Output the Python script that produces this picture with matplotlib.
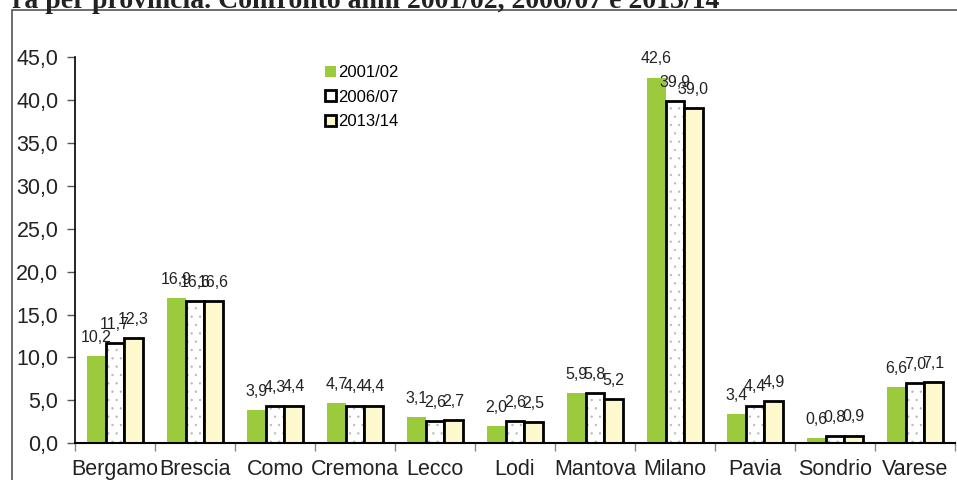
import matplotlib.pyplot as plt
import numpy as np
from matplotlib.patches import Patch, Rectangle

plt.rcParams['font.family'] = ['Liberation Sans', 'DejaVu Sans']
plt.rcParams['hatch.linewidth'] = 0.4

# Data
province = ['Bergamo', 'Brescia', 'Como', 'Cremona', 'Lecco', 'Lodi',
            'Mantova', 'Milano', 'Pavia', 'Sondrio', 'Varese']
anno_2001 = [10.2, 16.9, 3.9, 4.7, 3.1, 2.0, 5.9, 42.6, 3.4, 0.6, 6.6]
anno_2006 = [11.7, 16.6, 4.3, 4.4, 2.6, 2.6, 5.8, 39.9, 4.4, 0.8, 7.0]
anno_2013 = [12.3, 16.6, 4.4, 4.4, 2.7, 2.5, 5.2, 39.0, 4.9, 0.9, 7.1]
serie = ['2001/02', '2006/07', '2013/14']
yticks = np.arange(0, 50, 5)

W, H = 957, 480
fig = plt.figure(figsize=(W / 100, H / 100), dpi=100)
ax = fig.add_axes([75 / W, 1 - 443.3 / H, 880 / W, (443.3 - 56.9) / H])

green = '#9BCB3C'
yellow = '#FDF9CD'
x = np.arange(len(province))
w = 0.23

ax.bar(x - w, anno_2001, w, color=green, linewidth=0)
# white bars with a sparse grey dotted pattern, black outline on top
ax.bar(x, anno_2006, w, color='white', edgecolor='#b5b5b5', hatch='..', linewidth=0)
ax.bar(x, anno_2006, w, fill=False, edgecolor='black', linewidth=2)
ax.bar(x + w, anno_2013, w, color=yellow, edgecolor='black', linewidth=2)

# data labels
for off, vals in zip([-w, 0, w], [anno_2001, anno_2006, anno_2013]):
    for xi, v in zip(x, vals):
        ax.annotate(f'{v:.1f}'.replace('.', ','), (xi + off, v),
                    xytext=(0, 8), textcoords='offset points',
                    ha='center', va='bottom', fontsize=11.5, color='#222222')

ax.set_xlim(-0.5, len(province) - 0.5)
ax.set_ylim(0, 45)
ax.set_yticks(yticks)
ax.set_yticklabels([f'{t:.1f}'.replace('.', ',') for t in yticks])
ax.set_xticks(x)
ax.set_xticklabels(province)
ax.set_xticks(np.arange(-0.5, len(province), 1), minor=True)

ax.tick_params(axis='y', labelsize=15.5, length=6, width=1, color='#555555',
               pad=6, labelcolor='#222222')
ax.tick_params(axis='x', which='major', length=0, labelsize=15.5, pad=11,
               labelcolor='#222222')
ax.tick_params(axis='x', which='minor', length=6, width=1, color='#888888')

for s in ['top', 'right']:
    ax.spines[s].set_visible(False)
ax.spines['left'].set_linewidth(1.2)
ax.spines['bottom'].set_linewidth(1.5)

handles = [Patch(facecolor=green, edgecolor='none'),
           Patch(facecolor='white', edgecolor='black', linewidth=2),
           Patch(facecolor=yellow, edgecolor='black', linewidth=2)]
fig.legend(handles, serie, loc='upper left',
           bbox_to_anchor=(325 / W, 1 - 65 / H), frameon=False,
           fontsize=12, handlelength=0.65, handleheight=0.65,
           handletextpad=0.15, labelspacing=0.58, borderpad=0, borderaxespad=0)

# outer frame and cut-off title of the original page
fig.patches.append(Rectangle((12 / W, -0.1), 1.2, 1.1 - 9.5 / H, fill=False,
                             edgecolor='#555555', linewidth=1.2,
                             transform=fig.transFigure))
fig.text(12 / W, 1 - 8 / H,
         'ra per provincia. Confronto anni 2001/02, 2006/07 e 2013/14',
         family='Liberation Serif', fontweight='bold', fontsize=20,
         color='#222222', va='baseline', ha='left')

fig.savefig('out.png', dpi=100)
